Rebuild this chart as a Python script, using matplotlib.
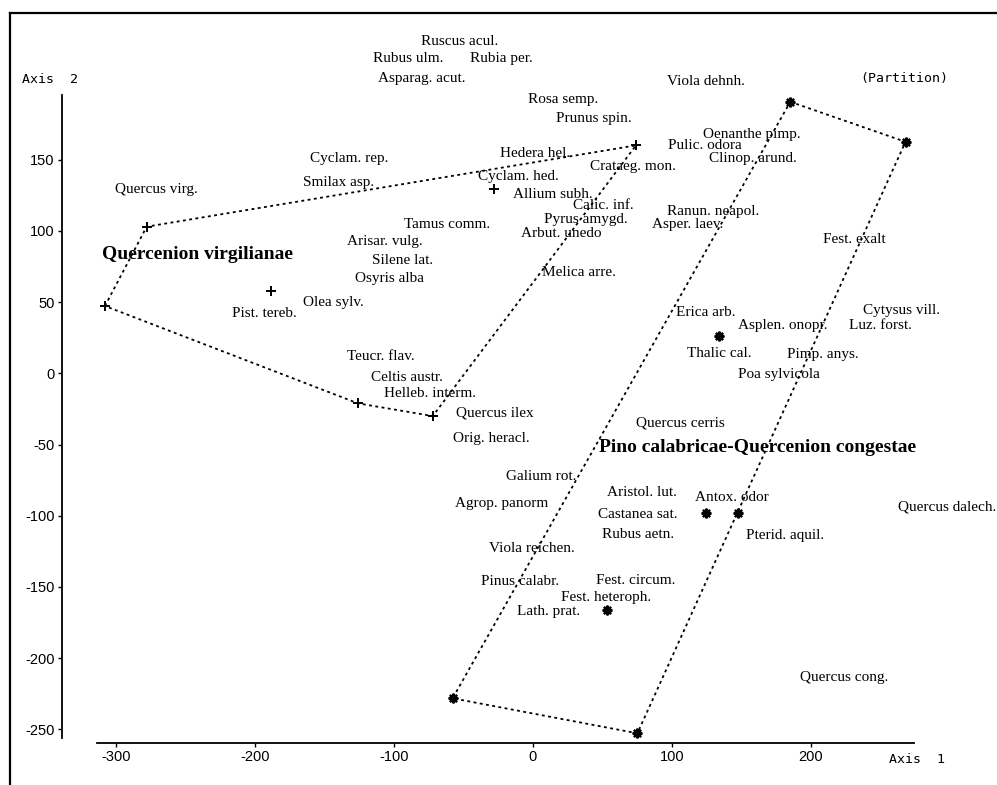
import matplotlib
matplotlib.use("Agg")
import matplotlib.pyplot as plt
import matplotlib.transforms as mtransforms
from matplotlib.lines import Line2D

plt.rcParams["axes.unicode_minus"] = False

# Species labels with their ordination scores (Axis 1, Axis 2)
species = [
    "Ruscus acul.", "Rubus ulm.", "Rubia per.", "Asparag. acut.", "Viola dehnh.",
    "Rosa semp.", "Prunus spin.", "Oenanthe pimp.", "Pulic. odora", "Hedera hel.",
    "Cyclam. rep.", "Clinop. arund.", "Crataeg. mon.", "Cyclam. hed.", "Smilax asp.",
    "Quercus virg.", "Allium subh.", "Calic. inf.", "Ranun. neapol.", "Pyrus amygd.",
    "Tamus comm.", "Asper. laev.", "Arbut. unedo", "Fest. exalt", "Arisar. vulg.",
    "Silene lat.", "Melica arre.", "Osyris alba", "Olea sylv.", "Cytysus vill.",
    "Erica arb.", "Pist. tereb.", "Asplen. onopr.", "Luz. forst.", "Thalic cal.",
    "Pimp. anys.", "Teucr. flav.", "Poa sylvicola", "Celtis austr.", "Helleb. interm.",
    "Quercus ilex", "Quercus cerris", "Orig. heracl.", "Galium rot.", "Aristol. lut.",
    "Antox. odor", "Agrop. panorm", "Quercus dalech.", "Castanea sat.", "Rubus aetn.",
    "Pterid. aquil.", "Viola reichen.", "Fest. circum.", "Pinus calabr.", "Fest. heteroph.",
    "Lath. prat.", "Quercus cong.",
]
species_x = [
    -80.4, -114.9, -45.3, -111.3, 96.3,
    -3.7, 16.8, 122.2, 97.6, -23.7,
    -160.2, 126.8, 41.4, -39.4, -165.3,
    -300.5, -13.9, 29.1, 96.3, 8.1,
    -92.7, 85.8, -8.4, 208.5, -133.8,
    -115.8, 6.5, -127.8, -165.0, 237.4,
    103.1, -216.5, 147.9, 227.8, 110.8,
    182.7, -133.8, 147.9, -116.5, -107.0,
    -55.2, 74.3, -57.6, -19.2, 53.7,
    116.8, -55.9, 263.0, 46.8, 49.6,
    153.2, -31.2, 45.5, -37.2, 20.1,
    -11.1, 192.3,
]
species_y = [
    234.1, 222.1, 222.1, 208.1, 206.0,
    193.3, 180.0, 168.8, 161.0, 155.4,
    151.9, 151.9, 146.3, 139.3, 135.0,
    130.1, 126.8, 118.9, 114.7, 109.1,
    105.8, 105.8, 99.4, 95.0, 93.6,
    80.1, 71.8, 67.4, 51.0, 44.9,
    44.0, 43.3, 34.6, 34.6, 15.2,
    14.0, 12.9, 0.0, -1.7, -12.9,
    -27.0, -33.5, -44.5, -71.4, -82.4,
    -86.0, -90.2, -92.5, -97.9, -111.9,
    -112.9, -121.8, -144.5, -145.2, -156.4,
    -166.2, -212.4,
]

# Relevés of the two partition groups
group1_x = [-307.7, -277.7, 74.3, -71.9, -125.6, -188.5, -27.8]
group1_y = [47.3, 103.0, 160.1, -30.0, -21.1, 57.8, 129.4]
group2_x = [185.3, 268.2, 75.3, -57.6, 147.9, 124.4, 53.2, 134.3]
group2_y = [190.7, 162.6, -252.8, -228.2, -98.3, -97.9, -166.2, 26.2]

# Convex hull vertex order (indices into the group arrays)
hull1 = [0, 1, 2, 3, 4, 0]
hull2 = [0, 1, 2, 3, 0]

group_names = ["Quercenion virgilianae", "Pino calabricae-Quercenion congestae"]
group_name_x = [-310.1, 47.9]
group_name_y = [84.3, -51.1]

x_ticks = [-300, -200, -100, 0, 100, 200]
y_ticks = [-250, -200, -150, -100, -50, 0, 50, 100, 150]

fig = plt.figure(figsize=(9.97, 7.85), dpi=100)
ax = fig.add_axes([0, 0, 1, 1])
ax.set_xlim(-383.2, 334.0)
ax.set_ylim(-289.1, 262.2)
ax.patch.set_alpha(0)

# Detached axis lines
for side in ("top", "right"):
    ax.spines[side].set_visible(False)
ax.spines["left"].set_position(("data", -338.8))
ax.spines["left"].set_bounds(-255.9, 195.4)
ax.spines["bottom"].set_position(("data", -259.8))
ax.spines["bottom"].set_bounds(-313.7, 274.3)
for side in ("left", "bottom"):
    ax.spines[side].set_linewidth(1.3)

ax.set_xticks(x_ticks)
ax.set_yticks(y_ticks)
ax.tick_params(direction="out", length=3, width=1, pad=2, labelsize=10.5)
for lab in ax.get_xticklabels() + ax.get_yticklabels():
    lab.set_fontfamily("Liberation Sans")

dash = (0, (1.6, 1.9))
ax.plot([group1_x[i] for i in hull1], [group1_y[i] for i in hull1],
        color="black", lw=1.3, ls=dash)
ax.plot([group2_x[i] for i in hull2], [group2_y[i] for i in hull2],
        color="black", lw=1.3, ls=dash)
ax.plot(group1_x, group1_y, ls="none", marker="+", ms=7, mew=1.4, color="black")
ax.plot(group2_x, group2_y, ls="none", marker=(8, 2, 0), ms=7, mew=1.6, color="black")

# Labels sit a touch below their anchor point
label_tf = mtransforms.offset_copy(ax.transData, fig=fig, x=0, y=-1.5, units="dots")

for name, x, y in zip(species, species_x, species_y):
    ax.text(x, y, name, ha="left", va="center", fontsize=11,
            fontfamily="Liberation Serif", color="black", transform=label_tf)

for name, x, y in zip(group_names, group_name_x, group_name_y):
    ax.text(x, y, name, ha="left", va="center", fontsize=14, fontweight="bold",
            fontfamily="Liberation Serif", color="black", transform=label_tf)

mono = dict(fontfamily="DejaVu Sans Mono", fontsize=9.5, ha="left", va="center")
ax.text(-367.6, 206.7, "Axis  2", **mono)
ax.text(235.9, 207.4, "(Partition)", **mono)
ax.text(256.5, -271.1, "Axis  1", **mono)

# Window frame along the top and left edges
fig.add_artist(Line2D([10 / 997, 1.0], [1 - 13 / 785, 1 - 13 / 785],
                      transform=fig.transFigure, color="black", lw=1.6))
fig.add_artist(Line2D([10 / 997, 10 / 997], [0.0, 1 - 13 / 785],
                      transform=fig.transFigure, color="black", lw=1.6))

fig.savefig("out.png", dpi=100, facecolor="white")
